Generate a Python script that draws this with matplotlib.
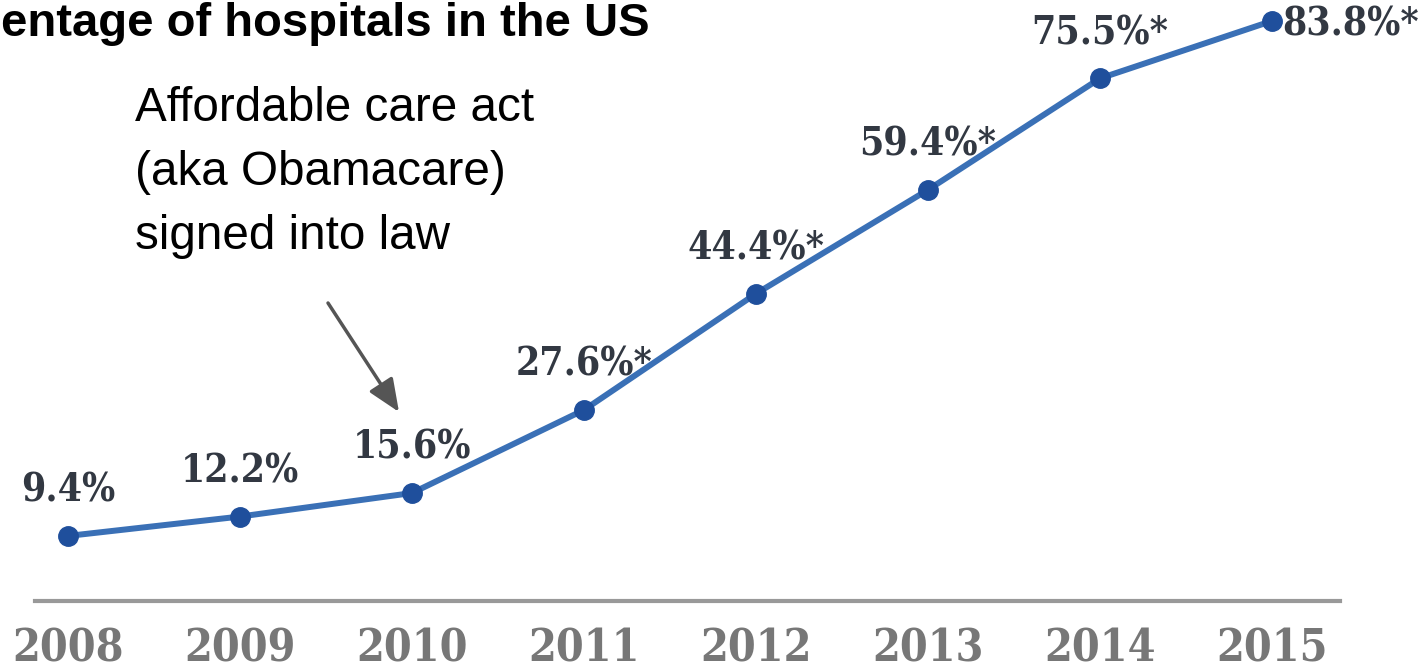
import matplotlib
matplotlib.use("Agg")
import matplotlib.pyplot as plt

years = [2008, 2009, 2010, 2011, 2012, 2013, 2014, 2015]
values = [9.4, 12.2, 15.6, 27.6, 44.4, 59.4, 75.5, 83.8]
labels = ["9.4%", "12.2%", "15.6%", "27.6%*", "44.4%*", "59.4%*", "75.5%*", "83.8%*"]
# the reference crops the title at its left edge; only the visible part is drawn
title = "entage of hospitals in the US"
note = "Affordable care act\n(aka Obamacare)\nsigned into law"

W, H = 1420, 672
fig = plt.figure(figsize=(W / 100, H / 100), dpi=100)
ax = fig.add_axes([0, 0, 1, 1])
ax.set_axis_off()

# pixel mapping: year step 172 px, 2008 at x=68; 6.922 px per %, 0% at y=601 (from top)
xstep = 172.0
x0 = 2008 - 68 / xstep
x1 = x0 + W / xstep
yscale = 6.922
ax.set_xlim(x0, x1)
ax.set_ylim(-(H - 601) / yscale, 601 / yscale)

ax.plot(years, values, color="#3a70b6", lw=4.3, solid_capstyle="round", zorder=2)
ax.plot(years, values, "o", color="#1f4f9c", ms=14, zorder=3)

lab_font = dict(fontsize=28, fontweight="bold", family="DejaVu Serif",
                fontstretch="condensed", color="#323842", zorder=4)
for i, (yr, v, lab) in enumerate(zip(years, values, labels)):
    if i == len(years) - 1:
        ax.annotate(lab, (yr, v), xytext=(7.5, -10.5), textcoords="offset points",
                    ha="left", va="baseline", **lab_font)
    else:
        ax.annotate(lab, (yr, v), xytext=(0, 24.5), textcoords="offset points",
                    ha="center", va="baseline", **lab_font)

# baseline
ax.axhline(0, xmin=35 / W, xmax=1340 / W, color="#999999", lw=3)

# year labels
for yr in years:
    ax.text(yr, (601 - 661) / yscale, str(yr), ha="center", va="baseline",
            fontsize=32, fontweight="bold", family="DejaVu Serif",
            fontstretch="condensed", color="#777777")

# title
fig.text(1 / W, 1 - 36 / H, title, ha="left", va="baseline", fontsize=34,
         fontweight="bold", family="Liberation Sans", color="black")

# annotation
fig.text(135 / W, 1 - 86 / H, note, ha="left", va="top", fontsize=34.3,
         family="Liberation Sans", color="black", linespacing=1.54)

ax.annotate("", xy=(2010 - 13 / xstep, (601 - 412) / yscale),
            xytext=(2010 - 84 / xstep, (601 - 303) / yscale),
            arrowprops=dict(arrowstyle="-|>,head_length=2.0,head_width=0.85",
                            color="#555555", lw=2.5, shrinkA=0, shrinkB=0))

fig.savefig("out.png", dpi=100)
